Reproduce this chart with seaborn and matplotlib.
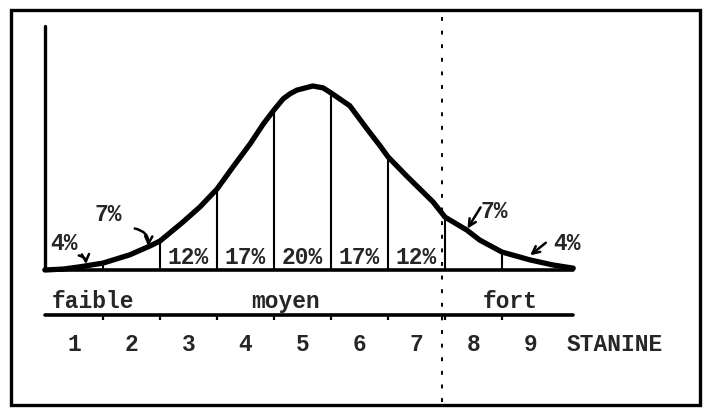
import matplotlib

matplotlib.use("Agg")

import matplotlib.pyplot as plt
import seaborn as sns
from matplotlib.patches import Rectangle

# normal curve as drawn in the scan (x in stanine units, y relative density)
curve_x = [0.48, 0.80, 1.10, 1.50, 1.97, 2.32, 2.50, 2.90, 3.20, 3.50, 3.78, 4.08, 4.31,
           4.50, 4.66, 4.78, 4.90, 5.18, 5.36, 5.50, 5.83, 6.13, 6.36, 6.50, 6.83, 7.06,
           7.29, 7.50, 7.88, 8.11, 8.50, 8.99, 9.39, 9.75]
curve_y = [0.000, 0.002, 0.007, 0.015, 0.033, 0.052, 0.063, 0.104, 0.137, 0.176, 0.224,
           0.274, 0.317, 0.348, 0.372, 0.383, 0.391, 0.400, 0.396, 0.385, 0.357, 0.307,
           0.270, 0.246, 0.204, 0.176, 0.148, 0.115, 0.087, 0.065, 0.039, 0.022, 0.011,
           0.004]

stanines = [1, 2, 3, 4, 5, 6, 7, 8, 9]
boundaries = [1.5, 2.5, 3.5, 4.5, 5.5, 6.5, 7.5, 8.5]
percents = ["4%", "7%", "12%", "17%", "20%", "17%", "12%", "7%", "4%"]
groups = ["faible", "moyen", "fort"]
axis_title = "STANINE"

FONT = ["Liberation Mono", "DejaVu Sans Mono"]


def px(x, y):
    # pixel position in the 706x410 picture -> data coords
    return 1.5 + (x - 103) / 57.0, (271 - y) * 0.4 / 184.0


sns.set_theme(style="white")
plt.rcParams["font.family"] = FONT

fig = plt.figure(figsize=(7.06, 4.10), dpi=100)
ax = fig.add_axes([0, 0, 1, 1])
x0, y0 = px(0, 410)
x1, y1 = px(706, 0)
ax.set_xlim(x0, x1)
ax.set_ylim(y0, y1)
ax.axis("off")

# outer frame
fx0, fy0 = px(11, 406)
fx1, fy1 = px(700, 11)
ax.add_patch(Rectangle((fx0, fy0), fx1 - fx0, fy1 - fy0, fill=False, lw=2.4, ec="black"))

# curve
sns.lineplot(x=curve_x, y=curve_y, color="black", linewidth=3.8, ax=ax, sort=False,
             solid_joinstyle="round", solid_capstyle="round")

# stanine dividers under the curve
lookup = dict(zip(curve_x, curve_y))
ax.vlines(boundaries, 0, [lookup[b] for b in boundaries], color="black", lw=1.5)

# vertical axis and baseline
ax.plot([px(45, 0)[0]] * 2, [px(0, 27)[1], 0], color="black", lw=2.4)
ax.plot([px(45, 0)[0], px(573, 0)[0]], [0, 0], color="black", lw=2.6)

# percentages inside the central bins
size = 16.5
for s, p in zip(stanines[2:7], percents[2:7]):
    ax.text(s, px(0, 258)[1], p, ha="center", va="center", fontsize=size,
            fontweight="bold", family=FONT)

# outer percentages with arrows
arrow = dict(arrowstyle="->", color="black", lw=1.8, mutation_scale=13)
outer = [
    (percents[0], (64, 244), (76, 256), (86, 268), "arc3,rad=-0.5"),
    (percents[1], (108, 215), (132, 229), (148, 250), "arc3,rad=-0.5"),
    (percents[7], (494, 212), (482, 206), (466, 232), "arc3,rad=0.0"),
    (percents[8], (567, 244), (548, 242), (528, 258), "arc3,rad=0.0"),
]
for label, tpos, start, end, style in outer:
    ax.text(*px(*tpos), label, ha="center", va="center", fontsize=size,
            fontweight="bold", family=FONT)
    ax.annotate("", xy=px(*end), xytext=px(*start),
                arrowprops=dict(arrow, connectionstyle=style))

# group labels and second axis line
for g, gx in zip(groups, [93, 286, 510]):
    ax.text(px(gx, 0)[0], px(0, 302)[1], g, ha="center", va="center", fontsize=size,
            fontweight="bold", family=FONT)
line_y = px(0, 316)[1]
ax.plot([px(45, 0)[0], px(573, 0)[0]], [line_y, line_y], color="black", lw=2.6)
ax.vlines(boundaries, px(0, 321)[1], line_y, color="black", lw=1.6)

# stanine numbers
for s in stanines:
    ax.text(s, px(0, 345)[1], str(s), ha="center", va="center", fontsize=size,
            fontweight="bold", family=FONT)
ax.text(px(615, 0)[0], px(0, 345)[1], axis_title, ha="center", va="center",
        fontsize=size, fontweight="bold", family=FONT)

# fold line of the scan
ax.plot([px(442, 0)[0]] * 2, [px(0, 18)[1], px(0, 404)[1]], color="black",
        lw=1.4, dashes=(2, 5))

fig.savefig("out.png", dpi=100)
plt.close(fig)
